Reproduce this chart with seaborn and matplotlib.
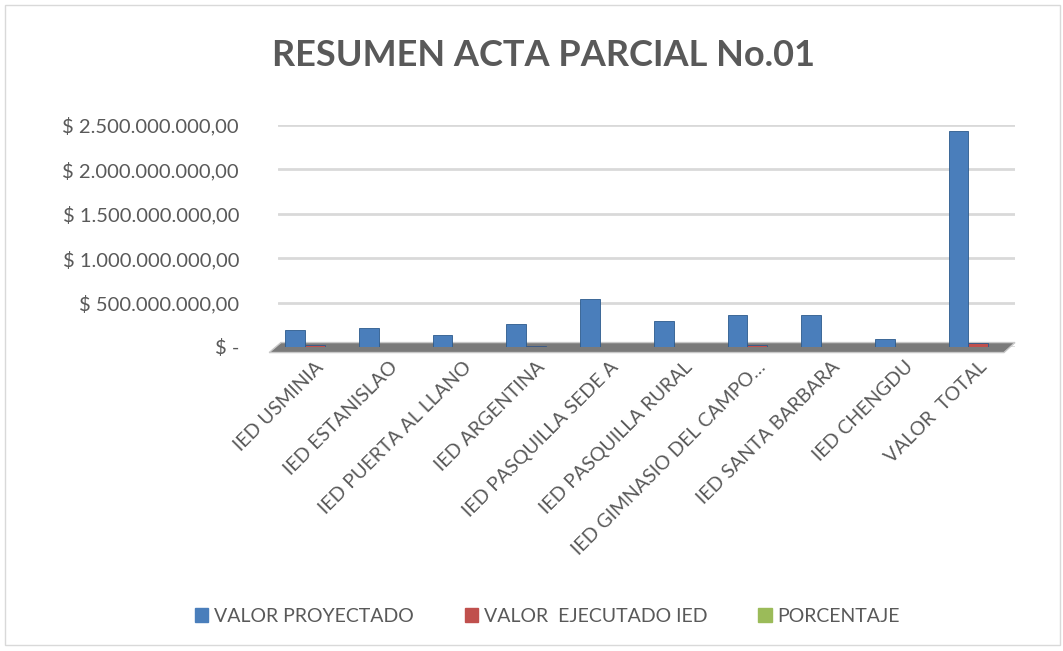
import matplotlib
matplotlib.use("Agg")
import matplotlib.pyplot as plt
import seaborn as sns
import pandas as pd
from matplotlib.ticker import FuncFormatter, FixedLocator
from matplotlib.patches import Rectangle, Polygon

categories = ["IED USMINIA", "IED ESTANISLAO", "IED PUERTA AL LLANO", "IED ARGENTINA",
              "IED PASQUILLA SEDE A", "IED PASQUILLA RURAL", "IED GIMNASIO DEL CAMPO…",
              "IED SANTA BARBARA", "IED CHENGDU", "VALOR  TOTAL"]
valor_proyectado = [188e6, 214e6, 139e6, 259e6, 545e6, 297e6, 357e6, 357e6, 86e6, 2432e6]
valor_ejecutado = [18e6, 0, 0, 15e6, 0, 0, 18e6, 0, 0, 45e6]
porcentaje = [0, 0, 0, 0, 0, 0, 0, 0, 0, 0]
series_names = ["VALOR PROYECTADO", "VALOR  EJECUTADO IED", "PORCENTAJE"]
y_ticks = [0, 500e6, 1000e6, 1500e6, 2000e6, 2500e6]
title = "RESUMEN ACTA PARCIAL No.01"

rows = []
for name, vals in zip(series_names, [valor_proyectado, valor_ejecutado, porcentaje]):
    for c, v in zip(categories, vals):
        rows.append({"cat": c, "serie": name, "valor": v})
df = pd.DataFrame(rows)

sns.set_theme(style="white")
plt.rcParams["font.family"] = ["Lato", "DejaVu Sans"]
txt = "#595959"

fig = plt.figure(figsize=(10.63, 6.51), dpi=100)
ax = fig.add_axes([278/1063, 1-347/651, (1015-278)/1063, (347-125)/651])

palette = {"VALOR PROYECTADO": "#4A7EBB", "VALOR  EJECUTADO IED": "#C0504D", "PORCENTAJE": "#9BBB59"}
sns.barplot(data=df, x="cat", y="valor", hue="serie", order=categories, hue_order=series_names,
            palette=palette, saturation=1, ax=ax, zorder=3, edgecolor="#2C5A8C", linewidth=0.6)

ax.set_ylim(0, 2.5e9)
ax.set_xlim(-0.5, len(categories) - 0.5)
ax.yaxis.set_major_locator(FixedLocator(y_ticks))

def fmt(v, pos):
    if v == 0:
        return "$ -"
    s = f"{v:,.2f}".replace(",", "X").replace(".", ",").replace("X", ".")
    return "$ " + s
ax.yaxis.set_major_formatter(FuncFormatter(fmt))
ax.grid(axis="y", color="#D9D9D9", linewidth=2, zorder=0)
ax.grid(axis="x", visible=False)
for s in ax.spines.values():
    s.set_visible(False)
ax.set_xlabel("")
ax.set_ylabel("")
ax.tick_params(axis="y", labelsize=14.5, colors=txt, pad=28, length=0)
ax.tick_params(axis="x", labelsize=14, colors=txt, pad=8, length=0)
for lab in ax.get_xticklabels():
    lab.set_rotation(45)
    lab.set_ha("right")
    lab.set_rotation_mode("anchor")

# floor
floor = Polygon([(-0.012, -0.025), (0.985, -0.025), (1.0, 0.02), (0.004, 0.02)],
                closed=True, transform=ax.transAxes, facecolor="#7A7A7A",
                edgecolor="#C8C8C8", lw=1, clip_on=False, zorder=2)
ax.add_patch(floor)

ax.legend_.remove()
handles = [Rectangle((0, 0), 1, 1, color=palette[n]) for n in series_names]
fig.legend(handles, series_names, loc="center", bbox_to_anchor=(0.515, 1-616/651), ncol=3,
           frameon=False, fontsize=14, labelcolor=txt, handlelength=0.7, handleheight=0.7,
           handletextpad=0.3, columnspacing=2.6)

fig.text(0.511, 1-55/651, title, ha="center", va="center", fontsize=26,
         fontweight="bold", color=txt)

fig.patches.append(Rectangle((5/1063, 6/651), 1055/1063, 640/651, transform=fig.transFigure,
                             fill=False, edgecolor="#D9D9D9", lw=1))

fig.savefig("out.png", dpi=100)
